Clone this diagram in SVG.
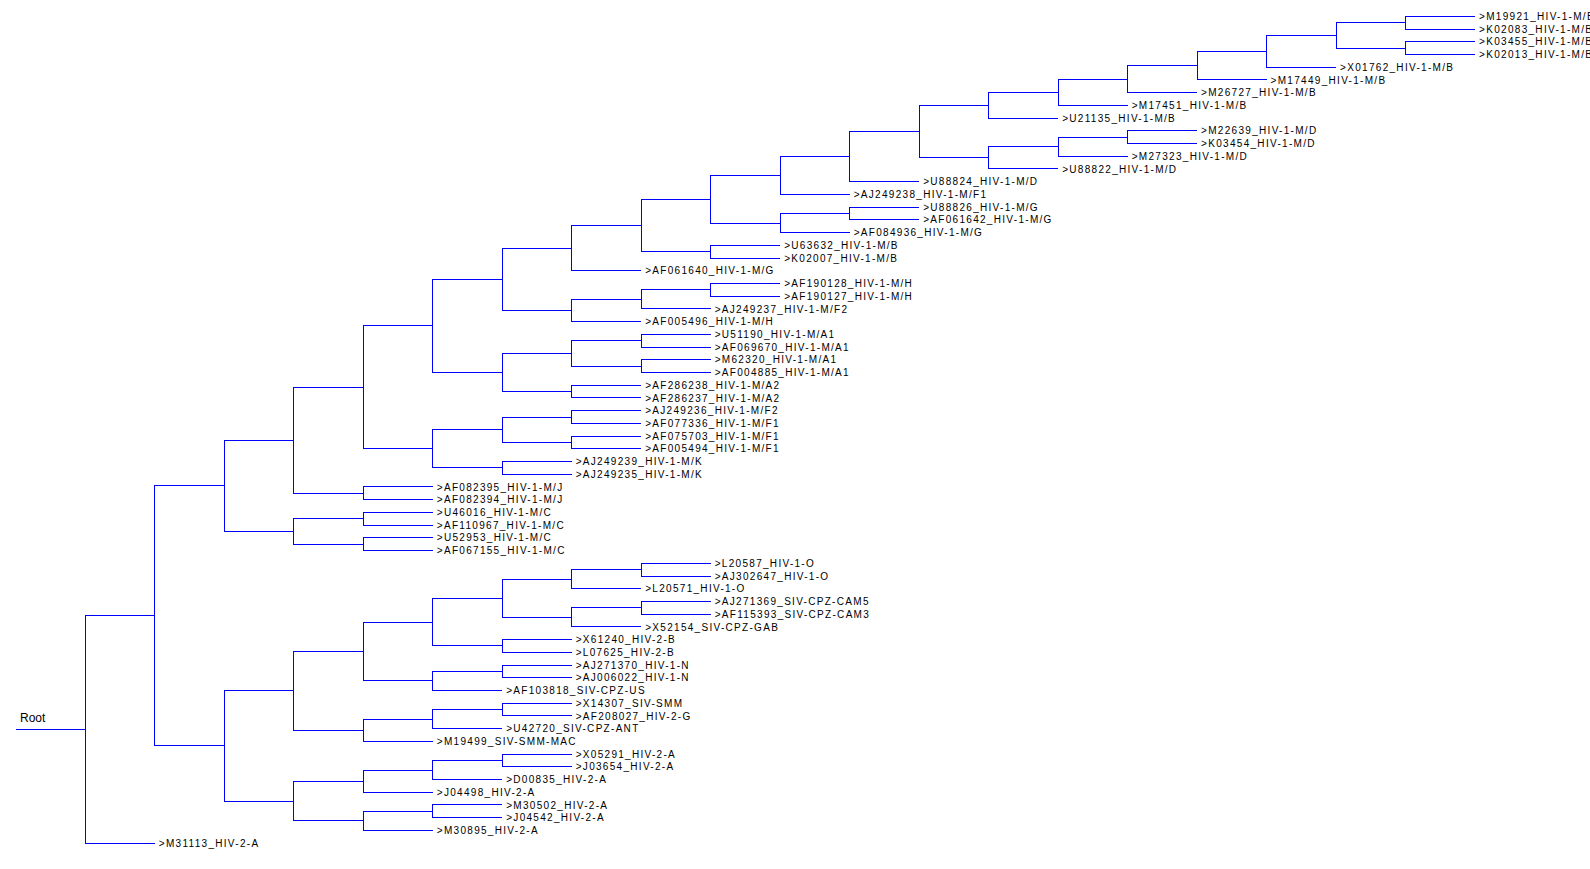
<svg xmlns="http://www.w3.org/2000/svg" width="1590" height="869" viewBox="0 0 1590 869">
<style>
.bg{fill:#ffffff}
.edge{fill:none;stroke:#0000ff;stroke-width:1;shape-rendering:crispEdges}
.lbl{font-family:"Liberation Sans",Arial,sans-serif;font-size:10px;letter-spacing:1.3px;fill:#000000}
.root{font-family:"Liberation Sans",Arial,sans-serif;font-size:12px;fill:#000000}
</style>
<rect class="bg" x="0" y="0" width="1590" height="869"/>
<g id="connectors">
<path class="edge" d="M16 729.5 H85.3"/>
<path class="edge" d="M154.8 615.9 H85.3 V843.1 H154.8"/>
<path class="edge" d="M224.3 485.9 H154.8 V745.9 H224.3"/>
<path class="edge" d="M293.8 440.3 H224.3 V531.5 H293.8"/>
<path class="edge" d="M363.3 387.3 H293.8 V493.3 H363.3"/>
<path class="edge" d="M432.8 325.9 H363.3 V448.8 H432.8"/>
<path class="edge" d="M502.2 279.3 H432.8 V372.5 H502.2"/>
<path class="edge" d="M571.7 248.1 H502.2 V310.5 H571.7"/>
<path class="edge" d="M641.2 225.4 H571.7 V270.7 H641.2"/>
<path class="edge" d="M710.7 199.2 H641.2 V251.6 H710.7"/>
<path class="edge" d="M780.2 175.5 H710.7 V223.0 H780.2"/>
<path class="edge" d="M849.7 156.6 H780.2 V194.4 H849.7"/>
<path class="edge" d="M919.2 131.5 H849.7 V181.7 H919.2"/>
<path class="edge" d="M988.7 105.1 H919.2 V157.8 H988.7"/>
<path class="edge" d="M1058.2 92.2 H988.7 V118.1 H1058.2"/>
<path class="edge" d="M1127.7 79.1 H1058.2 V105.3 H1127.7"/>
<path class="edge" d="M1197.1 65.6 H1127.7 V92.6 H1197.1"/>
<path class="edge" d="M1266.6 51.3 H1197.1 V79.9 H1266.6"/>
<path class="edge" d="M1336.1 35.4 H1266.6 V67.2 H1336.1"/>
<path class="edge" d="M1405.6 22.7 H1336.1 V48.1 H1405.6"/>
<path class="edge" d="M1475.1 16.3 H1405.6 V29.0 H1475.1"/>
<path class="edge" d="M1475.1 41.7 H1405.6 V54.5 H1475.1"/>
<path class="edge" d="M1058.2 146.7 H988.7 V168.9 H1058.2"/>
<path class="edge" d="M1127.7 137.1 H1058.2 V156.2 H1127.7"/>
<path class="edge" d="M1197.1 130.8 H1127.7 V143.5 H1197.1"/>
<path class="edge" d="M849.7 213.5 H780.2 V232.5 H849.7"/>
<path class="edge" d="M919.2 207.1 H849.7 V219.8 H919.2"/>
<path class="edge" d="M780.2 245.3 H710.7 V258.0 H780.2"/>
<path class="edge" d="M641.2 299.3 H571.7 V321.6 H641.2"/>
<path class="edge" d="M710.7 289.8 H641.2 V308.9 H710.7"/>
<path class="edge" d="M780.2 283.4 H710.7 V296.1 H780.2"/>
<path class="edge" d="M571.7 353.4 H502.2 V391.5 H571.7"/>
<path class="edge" d="M641.2 340.7 H571.7 V366.1 H641.2"/>
<path class="edge" d="M710.7 334.3 H641.2 V347.0 H710.7"/>
<path class="edge" d="M710.7 359.7 H641.2 V372.5 H710.7"/>
<path class="edge" d="M641.2 385.2 H571.7 V397.9 H641.2"/>
<path class="edge" d="M502.2 429.7 H432.8 V467.9 H502.2"/>
<path class="edge" d="M571.7 417.0 H502.2 V442.4 H571.7"/>
<path class="edge" d="M641.2 410.6 H571.7 V423.3 H641.2"/>
<path class="edge" d="M641.2 436.1 H571.7 V448.8 H641.2"/>
<path class="edge" d="M571.7 461.5 H502.2 V474.2 H571.7"/>
<path class="edge" d="M432.8 486.9 H363.3 V499.7 H432.8"/>
<path class="edge" d="M363.3 518.7 H293.8 V544.2 H363.3"/>
<path class="edge" d="M432.8 512.4 H363.3 V525.1 H432.8"/>
<path class="edge" d="M432.8 537.8 H363.3 V550.5 H432.8"/>
<path class="edge" d="M293.8 690.9 H224.3 V801.0 H293.8"/>
<path class="edge" d="M363.3 651.5 H293.8 V730.2 H363.3"/>
<path class="edge" d="M432.8 622.1 H363.3 V680.9 H432.8"/>
<path class="edge" d="M502.2 598.2 H432.8 V645.9 H502.2"/>
<path class="edge" d="M571.7 579.2 H502.2 V617.3 H571.7"/>
<path class="edge" d="M641.2 569.6 H571.7 V588.7 H641.2"/>
<path class="edge" d="M710.7 563.3 H641.2 V576.0 H710.7"/>
<path class="edge" d="M641.2 607.8 H571.7 V626.9 H641.2"/>
<path class="edge" d="M710.7 601.4 H641.2 V614.1 H710.7"/>
<path class="edge" d="M571.7 639.6 H502.2 V652.3 H571.7"/>
<path class="edge" d="M502.2 671.4 H432.8 V690.5 H502.2"/>
<path class="edge" d="M571.7 665.0 H502.2 V677.7 H571.7"/>
<path class="edge" d="M432.8 719.1 H363.3 V741.3 H432.8"/>
<path class="edge" d="M502.2 709.5 H432.8 V728.6 H502.2"/>
<path class="edge" d="M571.7 703.2 H502.2 V715.9 H571.7"/>
<path class="edge" d="M363.3 781.1 H293.8 V820.8 H363.3"/>
<path class="edge" d="M432.8 770.0 H363.3 V792.2 H432.8"/>
<path class="edge" d="M502.2 760.4 H432.8 V779.5 H502.2"/>
<path class="edge" d="M571.7 754.1 H502.2 V766.8 H571.7"/>
<path class="edge" d="M432.8 811.3 H363.3 V830.4 H432.8"/>
<path class="edge" d="M502.2 804.9 H432.8 V817.7 H502.2"/>
</g>
<g id="root"><text class="root" x="20" y="722">Root</text></g>
<g id="n-M19921"><text class="lbl" x="1479.1" y="19.9">&gt;M19921_HIV-1-M/B</text></g>
<g id="n-K02083"><text class="lbl" x="1479.1" y="32.6">&gt;K02083_HIV-1-M/B</text></g>
<g id="n-K03455"><text class="lbl" x="1479.1" y="45.3">&gt;K03455_HIV-1-M/B</text></g>
<g id="n-K02013"><text class="lbl" x="1479.1" y="58.1">&gt;K02013_HIV-1-M/B</text></g>
<g id="n-X01762"><text class="lbl" x="1340.1" y="70.8">&gt;X01762_HIV-1-M/B</text></g>
<g id="n-M17449"><text class="lbl" x="1270.6" y="83.5">&gt;M17449_HIV-1-M/B</text></g>
<g id="n-M26727"><text class="lbl" x="1201.1" y="96.2">&gt;M26727_HIV-1-M/B</text></g>
<g id="n-M17451"><text class="lbl" x="1131.7" y="108.9">&gt;M17451_HIV-1-M/B</text></g>
<g id="n-U21135"><text class="lbl" x="1062.2" y="121.7">&gt;U21135_HIV-1-M/B</text></g>
<g id="n-M22639"><text class="lbl" x="1201.1" y="134.4">&gt;M22639_HIV-1-M/D</text></g>
<g id="n-K03454"><text class="lbl" x="1201.1" y="147.1">&gt;K03454_HIV-1-M/D</text></g>
<g id="n-M27323"><text class="lbl" x="1131.7" y="159.8">&gt;M27323_HIV-1-M/D</text></g>
<g id="n-U88822"><text class="lbl" x="1062.2" y="172.5">&gt;U88822_HIV-1-M/D</text></g>
<g id="n-U88824"><text class="lbl" x="923.2" y="185.3">&gt;U88824_HIV-1-M/D</text></g>
<g id="n-AJ249238"><text class="lbl" x="853.7" y="198.0">&gt;AJ249238_HIV-1-M/F1</text></g>
<g id="n-U88826"><text class="lbl" x="923.2" y="210.7">&gt;U88826_HIV-1-M/G</text></g>
<g id="n-AF061642"><text class="lbl" x="923.2" y="223.4">&gt;AF061642_HIV-1-M/G</text></g>
<g id="n-AF084936"><text class="lbl" x="853.7" y="236.1">&gt;AF084936_HIV-1-M/G</text></g>
<g id="n-U63632"><text class="lbl" x="784.2" y="248.9">&gt;U63632_HIV-1-M/B</text></g>
<g id="n-K02007"><text class="lbl" x="784.2" y="261.6">&gt;K02007_HIV-1-M/B</text></g>
<g id="n-AF061640"><text class="lbl" x="645.2" y="274.3">&gt;AF061640_HIV-1-M/G</text></g>
<g id="n-AF190128"><text class="lbl" x="784.2" y="287.0">&gt;AF190128_HIV-1-M/H</text></g>
<g id="n-AF190127"><text class="lbl" x="784.2" y="299.7">&gt;AF190127_HIV-1-M/H</text></g>
<g id="n-AJ249237"><text class="lbl" x="714.7" y="312.5">&gt;AJ249237_HIV-1-M/F2</text></g>
<g id="n-AF005496"><text class="lbl" x="645.2" y="325.2">&gt;AF005496_HIV-1-M/H</text></g>
<g id="n-U51190"><text class="lbl" x="714.7" y="337.9">&gt;U51190_HIV-1-M/A1</text></g>
<g id="n-AF069670"><text class="lbl" x="714.7" y="350.6">&gt;AF069670_HIV-1-M/A1</text></g>
<g id="n-M62320"><text class="lbl" x="714.7" y="363.3">&gt;M62320_HIV-1-M/A1</text></g>
<g id="n-AF004885"><text class="lbl" x="714.7" y="376.1">&gt;AF004885_HIV-1-M/A1</text></g>
<g id="n-AF286238"><text class="lbl" x="645.2" y="388.8">&gt;AF286238_HIV-1-M/A2</text></g>
<g id="n-AF286237"><text class="lbl" x="645.2" y="401.5">&gt;AF286237_HIV-1-M/A2</text></g>
<g id="n-AJ249236"><text class="lbl" x="645.2" y="414.2">&gt;AJ249236_HIV-1-M/F2</text></g>
<g id="n-AF077336"><text class="lbl" x="645.2" y="426.9">&gt;AF077336_HIV-1-M/F1</text></g>
<g id="n-AF075703"><text class="lbl" x="645.2" y="439.7">&gt;AF075703_HIV-1-M/F1</text></g>
<g id="n-AF005494"><text class="lbl" x="645.2" y="452.4">&gt;AF005494_HIV-1-M/F1</text></g>
<g id="n-AJ249239"><text class="lbl" x="575.7" y="465.1">&gt;AJ249239_HIV-1-M/K</text></g>
<g id="n-AJ249235"><text class="lbl" x="575.7" y="477.8">&gt;AJ249235_HIV-1-M/K</text></g>
<g id="n-AF082395"><text class="lbl" x="436.8" y="490.5">&gt;AF082395_HIV-1-M/J</text></g>
<g id="n-AF082394"><text class="lbl" x="436.8" y="503.3">&gt;AF082394_HIV-1-M/J</text></g>
<g id="n-U46016"><text class="lbl" x="436.8" y="516.0">&gt;U46016_HIV-1-M/C</text></g>
<g id="n-AF110967"><text class="lbl" x="436.8" y="528.7">&gt;AF110967_HIV-1-M/C</text></g>
<g id="n-U52953"><text class="lbl" x="436.8" y="541.4">&gt;U52953_HIV-1-M/C</text></g>
<g id="n-AF067155"><text class="lbl" x="436.8" y="554.1">&gt;AF067155_HIV-1-M/C</text></g>
<g id="n-L20587"><text class="lbl" x="714.7" y="566.9">&gt;L20587_HIV-1-O</text></g>
<g id="n-AJ302647"><text class="lbl" x="714.7" y="579.6">&gt;AJ302647_HIV-1-O</text></g>
<g id="n-L20571"><text class="lbl" x="645.2" y="592.3">&gt;L20571_HIV-1-O</text></g>
<g id="n-AJ271369"><text class="lbl" x="714.7" y="605.0">&gt;AJ271369_SIV-CPZ-CAM5</text></g>
<g id="n-AF115393"><text class="lbl" x="714.7" y="617.7">&gt;AF115393_SIV-CPZ-CAM3</text></g>
<g id="n-X52154"><text class="lbl" x="645.2" y="630.5">&gt;X52154_SIV-CPZ-GAB</text></g>
<g id="n-X61240"><text class="lbl" x="575.7" y="643.2">&gt;X61240_HIV-2-B</text></g>
<g id="n-L07625"><text class="lbl" x="575.7" y="655.9">&gt;L07625_HIV-2-B</text></g>
<g id="n-AJ271370"><text class="lbl" x="575.7" y="668.6">&gt;AJ271370_HIV-1-N</text></g>
<g id="n-AJ006022"><text class="lbl" x="575.7" y="681.3">&gt;AJ006022_HIV-1-N</text></g>
<g id="n-AF103818"><text class="lbl" x="506.2" y="694.1">&gt;AF103818_SIV-CPZ-US</text></g>
<g id="n-X14307"><text class="lbl" x="575.7" y="706.8">&gt;X14307_SIV-SMM</text></g>
<g id="n-AF208027"><text class="lbl" x="575.7" y="719.5">&gt;AF208027_HIV-2-G</text></g>
<g id="n-U42720"><text class="lbl" x="506.2" y="732.2">&gt;U42720_SIV-CPZ-ANT</text></g>
<g id="n-M19499"><text class="lbl" x="436.8" y="744.9">&gt;M19499_SIV-SMM-MAC</text></g>
<g id="n-X05291"><text class="lbl" x="575.7" y="757.7">&gt;X05291_HIV-2-A</text></g>
<g id="n-J03654"><text class="lbl" x="575.7" y="770.4">&gt;J03654_HIV-2-A</text></g>
<g id="n-D00835"><text class="lbl" x="506.2" y="783.1">&gt;D00835_HIV-2-A</text></g>
<g id="n-J04498"><text class="lbl" x="436.8" y="795.8">&gt;J04498_HIV-2-A</text></g>
<g id="n-M30502"><text class="lbl" x="506.2" y="808.5">&gt;M30502_HIV-2-A</text></g>
<g id="n-J04542"><text class="lbl" x="506.2" y="821.3">&gt;J04542_HIV-2-A</text></g>
<g id="n-M30895"><text class="lbl" x="436.8" y="834.0">&gt;M30895_HIV-2-A</text></g>
<g id="n-M31113"><text class="lbl" x="158.8" y="846.7">&gt;M31113_HIV-2-A</text></g>
</svg>
